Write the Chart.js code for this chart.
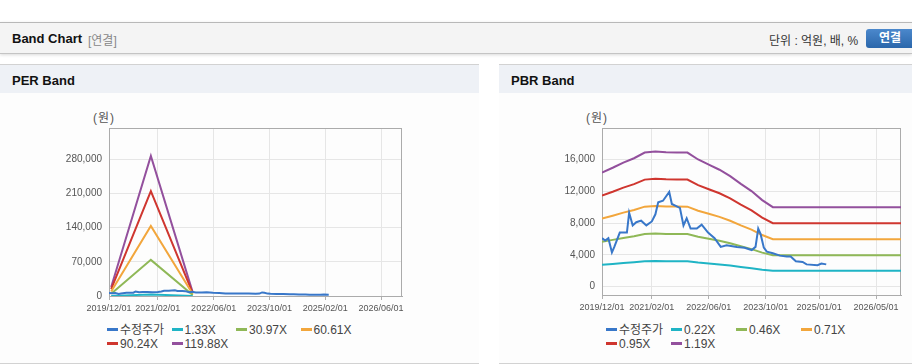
<!DOCTYPE html>
<html lang="ko">
<head>
<meta charset="utf-8">
<title>Band Chart</title>
<script src="https://cdn.jsdelivr.net/npm/chart.js@4.4.1/dist/chart.umd.min.js"></script>
<style>
  html, body { margin: 0; padding: 0; background: #fff; }
  body { width: 912px; height: 364px; position: relative; overflow: hidden;
         font-family: "Liberation Sans", "Noto Sans CJK KR", sans-serif; color: #333; }
  .topbar { position: absolute; left: 0; top: 22px; width: 912px; height: 30px; background: #f4f4f4;
            border-top: 1px solid #b8b8b8; border-bottom: 1px solid #c4c4c4; box-shadow: 0 1px 3px rgba(0,0,0,.15); }
  .topbar .ttl { position: absolute; left: 12px; top: 8px; font-weight: bold; font-size: 13px; color: #111; }
  .topbar .sub { position: absolute; left: 88px; top: 8px; font-size: 12px; color: #888; }
  .topbar .unit { position: absolute; left: 769px; top: 8px; font-size: 12px; color: #333; }
  .topbar .btn { position: absolute; left: 866px; top: 6px; width: 56px; height: 19px; border-radius: 3px;
                 background: linear-gradient(#4b88cc, #2b67ab); color: #fff; font-weight: bold; font-size: 12px;
                 line-height: 19px; padding-left: 13px; box-sizing: border-box; }
  .panel { position: absolute; top: 64px; height: 298px; background: #fdfdfd;
           border-top: 1px solid #d2d2d2; border-bottom: 1px solid #d2d2d2; }
  .panel .hd { height: 28px; background: #eef1f6; font-weight: bold; font-size: 13px; line-height: 31px;
               padding-left: 12px; color: #111; }
  canvas { position: absolute; top: 93px; }
  .unitlbl { position: absolute; top: 108px; font-size: 12px; color: #555; letter-spacing: 1px; }
  .legend { position: absolute; left: 0; top: 0; }
  .legend .item { position: absolute; height: 14px; line-height: 14px; font-size: 12px; color: #444; white-space: nowrap; }
  .legend .item i { display: inline-block; width: 11px; height: 3px; vertical-align: middle; margin-right: 2px; margin-top: -2px; }
</style>
</head>
<body>
<div class="topbar">
  <span class="ttl">Band Chart</span>
  <span class="sub">[연결]</span>
  <span class="unit">단위 : 억원, 배, %</span>
  <span class="btn">연결</span>
</div>

<div class="panel" style="left:0; width:479px;"><div class="hd">PER Band</div></div>
<div class="panel" style="left:499px; width:413px;"><div class="hd">PBR Band</div></div>

<span class="unitlbl" style="left:93px;">(원)</span>
<span class="unitlbl" style="left:586px;">(원)</span>

<canvas id="per-chart" width="479" height="230" style="left:0;"></canvas>
<canvas id="pbr-chart" width="413" height="230" style="left:499px;"></canvas>
<div id="per-legend" class="legend"></div>
<div id="pbr-legend" class="legend"></div>

<script>
'use strict';

// adjusted share price (수정주가)
const priceDates = [
  '2019/12/01', '2019/12/28', '2020/01/25', '2020/02/25', '2020/03/15', '2020/05/01', '2020/07/01',
  '2020/07/20', '2020/08/20', '2020/09/20', '2020/11/01', '2020/12/15', '2021/02/01', '2021/03/01',
  '2021/03/25', '2021/05/05', '2021/06/28', '2021/07/20', '2021/09/01', '2021/09/28', '2021/10/28',
  '2021/11/25', '2021/12/28', '2022/02/20', '2022/04/01', '2022/05/25', '2022/07/20', '2022/09/12',
  '2022/11/01', '2023/01/28', '2023/04/03', '2023/06/03', '2023/07/05', '2023/07/28', '2023/08/18',
  '2023/09/15', '2023/10/10', '2023/12/01', '2024/02/01', '2024/03/28', '2024/05/01', '2024/06/15',
  '2024/08/12', '2024/09/15', '2024/12/18', '2025/01/20', '2025/03/01'
];
const priceValues = [
  6100, 5800, 6100, 4300, 5000, 6800, 6800,
  9300, 7700, 8100, 8300, 7700, 8200, 9100,
  10600, 10800, 11900, 10400, 10100, 9900, 7700,
  8600, 7300, 7300, 7800, 6800, 6100, 5000,
  5200, 5000, 4900, 4600, 5000, 7300, 6600,
  4900, 4400, 4200, 3900, 3800, 3800, 3200,
  3100, 2800, 2700, 2900, 2800
];

// PER band
const perBandDates = ['2019/12/20', '2020/12/01', '2021/12/01'];
const perBand133 = [200, 3200, 100];
const perBand3097 = [4800, 74000, 2000];
const perBand6061 = [9400, 143300, 3900];
const perBand9024 = [14000, 214800, 5700];
const perBand11988 = [18500, 286800, 7500];
const perXTicks = ['2019/12/01', '2021/02/01', '2022/06/01', '2023/10/01', '2025/02/01', '2026/06/01'];
const perYTicks = [0, 70000, 140000, 210000, 280000];

// PBR band
const pbrBandDates = [
  '2019/12/01', '2020/03/01', '2020/06/01', '2020/09/01', '2020/12/01', '2021/03/01',
  '2021/06/01', '2021/09/01', '2021/12/01', '2022/03/01', '2022/06/01', '2022/09/01',
  '2022/12/01', '2023/03/01', '2023/06/01', '2023/09/01', '2023/12/01', '2026/12/01'
];
const pbrBand022 = [2740, 2850, 2960, 3070, 3200, 3220, 3200, 3200, 3200, 3040, 2920, 2800, 2650, 2470, 2300, 2120, 2000, 2000];
const pbrBand046 = [5640, 5880, 6130, 6340, 6620, 6670, 6630, 6630, 6620, 6280, 6030, 5770, 5460, 5080, 4720, 4280, 3950, 3950];
const pbrBand071 = [8560, 8920, 9310, 9640, 10060, 10140, 10080, 10070, 10060, 9540, 9160, 8770, 8290, 7710, 7170, 6490, 5970, 5970];
const pbrBand095 = [11450, 11930, 12450, 12890, 13460, 13570, 13490, 13480, 13460, 12770, 12250, 11740, 11100, 10320, 9600, 8690, 7980, 7980];
const pbrBand119 = [14340, 14950, 15600, 16150, 16860, 17000, 16900, 16880, 16860, 15990, 15350, 14700, 13900, 12930, 12020, 10880, 10000, 10000];
const pbrXTicks = ['2019/12/01', '2021/02/01', '2022/06/01', '2023/10/01', '2025/01/01', '2026/05/01'];
const pbrYTicks = [0, 4000, 8000, 12000, 16000];

const COLORS = ['#3877c9', '#1fb4c5', '#8fb857', '#f2a63c', '#cf362f', '#93509d'];
const X_FONT = { family: '"Liberation Sans", sans-serif', size: 9 };
const Y_FONT = { family: '"Liberation Sans", sans-serif', size: 10 };

// months since 2019/12/01
function toMonth(s) {
  const [y, m, d] = s.split('/').map(Number);
  return (y - 2019) * 12 + (m - 12) + (d - 1) / 30.4;
}

function points(dates, values) {
  return dates.map((d, i) => ({ x: toMonth(d), y: values[i] }));
}

function line(label, dates, values, color) {
  return {
    label, data: points(dates, values), borderColor: color, backgroundColor: color,
    borderWidth: 2, pointRadius: 0, tension: 0, fill: false,
  };
}

const framePlugin = {
  id: 'frame',
  beforeDatasetsDraw(chart) {
    const a = chart.chartArea, ctx = chart.ctx;
    ctx.save();
    ctx.strokeStyle = '#ababab';
    ctx.lineWidth = 1;
    ctx.strokeRect(Math.round(a.left) + 0.5, Math.round(a.top) + 0.5,
      Math.round(a.right - a.left) - 1, Math.round(a.bottom - a.top));
    ctx.restore();
  },
};

function makeChart(id, datasets, o) {
  const ctx = document.getElementById(id).getContext('2d');
  return new Chart(ctx, {
    type: 'line',
    data: { datasets },
    plugins: [framePlugin],
    options: {
      responsive: false,
      animation: false,
      devicePixelRatio: 1,
      layout: { padding: { left: 0, top: 35, right: o.right, bottom: 0 } },
      plugins: { legend: { display: false }, tooltip: { enabled: false } },
      scales: {
        x: {
          type: 'linear', min: 0, max: toMonth('2026/12/01'),
          afterBuildTicks: s => { s.ticks = o.xTicks.map(d => ({ value: toMonth(d) })); },
          afterFit: s => { s.height = o.xHeight; },
          ticks: { autoSkip: false, maxRotation: 0, padding: 3, color: '#555', font: X_FONT,
                   callback: (v, i) => o.xTicks[i] },
          grid: { color: '#e6e6e6', tickLength: 4, tickColor: '#b0b0b0' },
          border: { color: '#ababab' },
        },
        y: {
          min: o.yMin, max: o.yMax,
          afterBuildTicks: s => { s.ticks = o.yTicks.map(v => ({ value: v })); },
          afterFit: s => { s.width = o.yWidth; },
          ticks: { padding: 7, color: '#555', font: Y_FONT,
                   callback: v => v.toLocaleString('en-US') },
          grid: { color: '#e6e6e6', drawTicks: false },
          border: { color: '#ababab' },
        },
      },
    },
  });
}

function buildLegend(elId, chart, left, top, colW) {
  const box = document.getElementById(elId);
  chart.data.datasets.forEach((ds, i) => {
    const item = document.createElement('div');
    item.className = 'item';
    item.style.left = (left + (i % 4) * colW) + 'px';
    item.style.top = (top + Math.floor(i / 4) * 14) + 'px';
    const mark = document.createElement('i');
    mark.style.background = ds.borderColor;
    item.appendChild(mark);
    item.appendChild(document.createTextNode(ds.label));
    box.appendChild(item);
  });
}

const perChart = makeChart('per-chart', [
  line('수정주가', priceDates, priceValues, COLORS[0]),
  line('1.33X', perBandDates, perBand133, COLORS[1]),
  line('30.97X', perBandDates, perBand3097, COLORS[2]),
  line('60.61X', perBandDates, perBand6061, COLORS[3]),
  line('90.24X', perBandDates, perBand9024, COLORS[4]),
  line('119.88X', perBandDates, perBand11988, COLORS[5]),
], { right: 77, xHeight: 27, yWidth: 109, yMin: 0, yMax: 344000, xTicks: perXTicks, yTicks: perYTicks });

const pbrChart = makeChart('pbr-chart', [
  line('수정주가', priceDates, priceValues, COLORS[0]),
  line('0.22X', pbrBandDates, pbrBand022, COLORS[1]),
  line('0.46X', pbrBandDates, pbrBand046, COLORS[2]),
  line('0.71X', pbrBandDates, pbrBand071, COLORS[3]),
  line('0.95X', pbrBandDates, pbrBand095, COLORS[4]),
  line('1.19X', pbrBandDates, pbrBand119, COLORS[5]),
], { right: 11, xHeight: 28, yWidth: 103, yMin: -1050, yMax: 19950, xTicks: pbrXTicks, yTicks: pbrYTicks });

buildLegend('per-legend', perChart, 107, 323, 64.5);
buildLegend('pbr-legend', pbrChart, 606, 323, 65);
</script>
</body>
</html>
